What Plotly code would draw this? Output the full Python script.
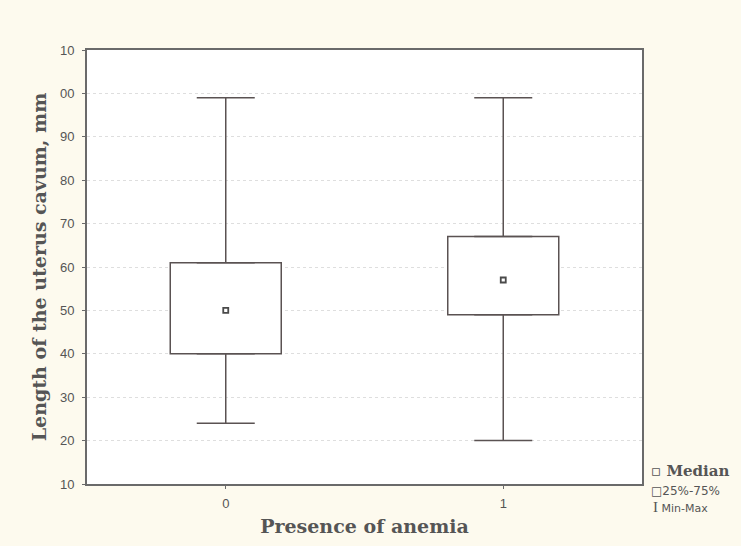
import plotly.graph_objects as go

# ---- data ----
categories = [0, 1]
minimum = [24, 20]
q1 = [40, 49]
median = [50, 57]
q3 = [61, 67]
maximum = [99, 99]

y_tickvals = [10, 20, 30, 40, 50, 60, 70, 80, 90, 100, 110]
y_ticktext = ["10", "20", "30", "40", "50", "60", "70", "80", "90", "00", "10"]
x_tickvals = [0, 1]
x_ticktext = ["0", "1"]

LINE = "#5a5252"
FRAME = "#6a6a6a"
TXT = "#555555"
BG = "#fdfaee"

fig = go.Figure()

# box body (25%-75%)
fig.add_trace(go.Bar(
    x=categories,
    base=q1,
    y=[b - a for a, b in zip(q1, q3)],
    width=0.4,
    marker=dict(color="white", line=dict(color=LINE, width=1.5)),
    showlegend=False,
    hoverinfo="skip",
))

# upper whisker (q3 -> max)
fig.add_trace(go.Scatter(
    x=categories, y=q3, mode="markers",
    marker=dict(size=1, color="rgba(0,0,0,0)"),
    error_y=dict(type="data", symmetric=False,
                 array=[mx - b for mx, b in zip(maximum, q3)],
                 arrayminus=[0, 0],
                 color=LINE, thickness=1.5, width=29),
    showlegend=False, hoverinfo="skip",
))
# lower whisker (min -> q1)
fig.add_trace(go.Scatter(
    x=categories, y=q1, mode="markers",
    marker=dict(size=1, color="rgba(0,0,0,0)"),
    error_y=dict(type="data", symmetric=False,
                 array=[0, 0],
                 arrayminus=[a - mn for a, mn in zip(q1, minimum)],
                 color=LINE, thickness=1.5, width=29),
    showlegend=False, hoverinfo="skip",
))
# median marker
fig.add_trace(go.Scatter(
    x=categories, y=median, mode="markers",
    marker=dict(symbol="square-open", size=5, color="#4a4a4a",
                line=dict(width=1.8, color="#4a4a4a")),
    showlegend=False,
))

fig.update_layout(
    width=741, height=546,
    margin=dict(l=87, r=99, t=50, b=60),
    paper_bgcolor=BG,
    plot_bgcolor="white",
    barmode="overlay",
    xaxis=dict(
        range=[-0.5, 1.5],
        tickvals=x_tickvals, ticktext=x_ticktext,
        showgrid=False, zeroline=False,
        showline=True, linecolor=FRAME, linewidth=2, mirror=True,
        ticks="outside", ticklen=3, tickcolor=FRAME,
        ticklabelstandoff=3,
        tickfont=dict(family="Liberation Sans, Arial", size=13, color=TXT),
        title=dict(text="<b>Presence of anemia</b>",
                   font=dict(family="DejaVu Serif", size=19, color=TXT),
                   standoff=10),
    ),
    yaxis=dict(
        range=[10, 110],
        tickvals=y_tickvals, ticktext=y_ticktext,
        showgrid=True, gridcolor="#dedede", griddash="dot", gridwidth=1,
        zeroline=False,
        showline=True, linecolor=FRAME, linewidth=2, mirror=True,
        ticks="outside", ticklen=3, tickcolor=FRAME,
        ticklabelstandoff=5,
        tickfont=dict(family="Liberation Sans, Arial", size=13, color=TXT),
        title=dict(text="<b>Length of the uterus cavum, mm</b>",
                   font=dict(family="DejaVu Serif", size=19, color=TXT),
                   standoff=8),
    ),
    annotations=[
        dict(xref="paper", yref="paper", x=1.012, y=0.03, xanchor="left", yanchor="middle",
             text="<b>▫ Median</b>", showarrow=False,
             font=dict(family="DejaVu Serif", size=15, color=TXT)),
        dict(xref="paper", yref="paper", x=1.012, y=-0.015, xanchor="left", yanchor="middle",
             text="□25%-75%", showarrow=False,
             font=dict(family="DejaVu Sans", size=12, color=TXT)),
        dict(xref="paper", yref="paper", x=1.016, y=-0.052, xanchor="left", yanchor="middle",
             text="<span style='font-family:Liberation Serif;font-size:15px'>I</span> Min-Max", showarrow=False,
             font=dict(family="DejaVu Sans", size=11, color=TXT)),
    ],
)

fig.write_html("out.html")
